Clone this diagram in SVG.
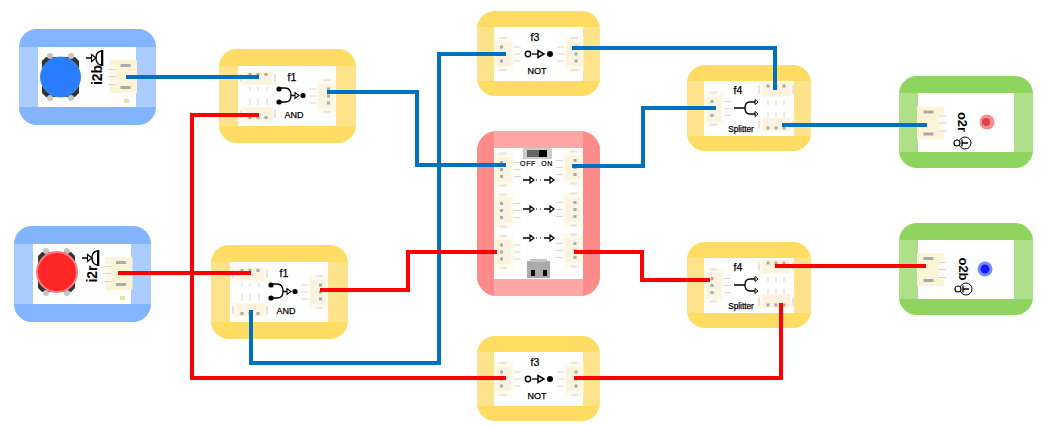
<svg xmlns="http://www.w3.org/2000/svg" xmlns:xlink="http://www.w3.org/1999/xlink" width="1053" height="426" viewBox="0 0 1053 426">
<style>
text{font-family:"Liberation Sans",Arial,sans-serif;fill:#000;text-anchor:middle}
.t{font-size:10.5px;stroke:#000;stroke-width:.25px}
.s{font-size:9px;stroke:#000;stroke-width:.25px}
.sp{font-size:8.2px;stroke:#000;stroke-width:.25px}
.v{font-size:14px;font-weight:700}
.y1{fill:#ffdc64}.y2{fill:#ffe38c}
.b1{fill:#82b4ff}.b2{fill:#aaccff}
.g1{fill:#90d460}.g2{fill:#aee08a}
.r1{fill:#ffa6a6}.r2{fill:#ff8a8a}
.w{fill:#fff}
.ln{fill:none;stroke:#000;stroke-width:1.3}
.wb,.wr{fill:none;stroke-width:4;stroke-linejoin:miter}
.wb{stroke:#0070c0}.wr{stroke:#f00}
.pin{stroke:#d4d4d4;stroke-width:1}
</style>
<defs>
<g id="portB">
<rect x="-9.5" y="-17.5" width="19" height="35" fill="#fffaec"/>
<rect x="-7" y="-12" width="15" height="24" fill="#fbf3df"/>
<rect x="-4" y="-17" width="7" height="2" fill="#e4e4e4"/><rect x="-4" y="15" width="7" height="2" fill="#e4e4e4"/>
<rect x="-3.5" y="-8.500" width="3" height="3" fill="#aaa"/><rect x="-3.5" y="-1.500" width="3" height="3" fill="#aaa"/><rect x="-3.5" y="5.500" width="3" height="3" fill="#aaa"/>
<path class="pin" d="M10 -7h7M10 0h7M10 7h7"/>
</g>
<g id="portA">
<rect x="-13.500" y="-16.500" width="27" height="33" fill="#fdf3d6"/>
<rect x="-13.500" y="-10" width="6" height="20" fill="#fff9ea"/>
<rect x="-3" y="-12.500" width="10" height="3" fill="#aaa"/><rect x="-3" y="9.500" width="10" height="3" fill="#aaa"/>
<path class="pin" d="M-15.500 -7h8M-15.500 0h8M-15.500 8h8"/>
</g>
<g id="portH">
<rect x="-18" y="-7.500" width="36" height="15" fill="#fffaec"/>
<rect x="-13" y="-6.500" width="27" height="13" fill="#fbf3df"/>
<rect x="-18" y="-4" width="2" height="8" fill="#e4e4e4"/><rect x="16" y="-4" width="2" height="8" fill="#e4e4e4"/>
<rect x="-9.500" y="-5" width="3" height="3" fill="#aaa"/><rect x="-1.500" y="-5" width="3" height="3" fill="#aaa"/><rect x="6.500" y="-5" width="3" height="3" fill="#aaa"/>
</g>
<g id="speaker">
<path class="ln" d="M86 58H92M101 51Q96 52 96 58Q96 64 101 65"/>
<path d="M91.500 54.500V61.500L96 58Z" fill="#fff" stroke="#000" stroke-width="1.200"/>
<rect x="101" y="50" width="2.300" height="16"/>
</g>
<g id="lamp">
<circle r="6" fill="#fff" stroke="#000" stroke-width="1"/>
<path class="ln" d="M-3 -3.500V3.500M-3 0H3"/>
<circle cx="-8" cy="0" r="3" fill="#fff" stroke="#000" stroke-width="1.200"/>
</g>
<g id="btnBase">
<path d="M46 57H75L79 61V93L75 97H46L42 93V61Z" fill="#333"/>
<circle cx="50" cy="56" r="3" fill="#c4c4c4"/><circle cx="71" cy="56" r="3" fill="#c4c4c4"/>
<circle cx="50" cy="98" r="3" fill="#c4c4c4"/><circle cx="71" cy="98" r="3" fill="#c4c4c4"/>
</g>
<g id="shellI"><rect x="19" y="29" width="137" height="96" rx="18" class="b1"/><rect x="19" y="47" width="137" height="60" class="b2"/><rect x="38" y="47" width="98" height="60" class="w"/></g>
<g id="shellO"><rect x="899" y="76" width="134" height="92" rx="18" class="g1"/><rect x="899" y="93" width="134" height="59" class="g2"/><rect x="918" y="93" width="96" height="59" class="w"/></g>
<g id="shellF1">
<rect x="219" y="49" width="137" height="94" rx="18" class="y1"/><rect x="219" y="66" width="137" height="60" class="y2"/><rect x="238" y="66" width="98" height="60" class="w"/>
<use href="#portH" x="258" y="78"/>
<use href="#portH" transform="translate(258,114) scale(1,-1)"/>
<path class="pin" d="M250 87v4M258 87v4M267 87v4M250 98v7M258 98v7M267 98v7"/>
<use href="#portB" transform="translate(326.500,96) scale(-1,1)"/>
<circle cx="279" cy="89" r="2.600"/><circle cx="279" cy="102" r="2.600"/>
<path class="ln" d="M281 88H285C290 88 291 92 291 95.500C291 99 290 102 285 102H281M291 95.500H296"/>
<path d="M295 92.500V98.500L299 95.500Z" fill="#fff" stroke="#000" stroke-width="1.100"/>
<circle cx="303" cy="95.500" r="2.600"/>
</g>
<g id="shellF3">
<rect x="477" y="11" width="123" height="85" rx="18" class="y1"/><rect x="477" y="27" width="123" height="54" class="y2"/><rect x="494" y="27" width="89" height="54" class="w"/>
<use href="#portB" x="503.500" y="54"/>
<use href="#portB" transform="translate(574,54) scale(-1,1)"/>
<circle cx="528" cy="54" r="2.700" fill="#fff" stroke="#000" stroke-width="1.400"/>
<path class="ln" d="M532 54H538"/>
<path d="M538 50.500V57.500L544 54Z" fill="#fff" stroke="#000" stroke-width="1.500"/>
<circle cx="550" cy="54" r="3"/>
</g>
<g id="shellF4">
<rect x="687" y="65" width="124" height="86" rx="18" class="y1"/><rect x="687" y="81" width="124" height="55" class="y2"/><rect x="704" y="81" width="90" height="55" class="w"/>
<use href="#portB" x="714" y="108.500"/>
<use href="#portH" x="776" y="89.500"/>
<use href="#portH" transform="translate(776,124.500) scale(1,-1)"/>
<path class="pin" d="M768 100v5M776 100v5M784 100v5M768 112v5M776 112v5M784 112v5"/>
<path class="ln" d="M734 108H745M755 102H750C746 102 745 105 745 108C745 111 746 114 750 114H755"/>
<path d="M755 99.500V104.500L758 102ZM755 111.500V116.500L758 114Z" fill="#fff" stroke="#000" stroke-width="1"/>
</g>
<g id="thru">
<path class="ln" d="M523 0H530M544 0H550"/>
<path d="M530 -3V3L534 0ZM550 -3V3L554 0Z" fill="#fff" stroke="#000" stroke-width="1.200"/>
<path d="M536 0h1M540 0h1" stroke="#000" stroke-width="1.200"/>
</g>
</defs>

<g id="i2b">
<use href="#shellI"/>
<use href="#btnBase"/>
<circle cx="60.500" cy="77" r="20" fill="#2a7dff" stroke="#3d8cff"/>
<use href="#speaker"/>
<text class="v" transform="translate(101.500,75) rotate(-90)">i2b</text>
<use href="#portA" x="123.500" y="76.500"/>
<rect x="124" y="99" width="5" height="4" fill="#dde8a0"/>
</g>

<g id="i2r">
<use href="#shellI" transform="translate(-5,197)"/>
<use href="#btnBase" transform="translate(-4,195)"/>
<circle cx="57" cy="272" r="20" fill="#ff2626" stroke="#ff7a7a" stroke-width="2"/>
<use href="#speaker" transform="translate(-4,200)"/>
<text class="v" transform="translate(97,274) rotate(-90)">i2r</text>
<use href="#portA" x="119" y="273.500"/>
<rect x="120" y="296" width="5" height="4" fill="#dde8a0"/>
</g>

<g id="f1a">
<use href="#shellF1"/>
<text class="t" x="292" y="81">f1</text>
<text class="s" x="294" y="118">AND</text>
</g>
<g id="f1b" transform="translate(-8,196)">
<use href="#shellF1"/>
<text class="t" x="292" y="81">f1</text>
<text class="s" x="294" y="118">AND</text>
</g>

<g id="f3a">
<use href="#shellF3"/>
<text class="t" x="535" y="41">f3</text>
<text class="s" x="537" y="74">NOT</text>
</g>
<g id="f3b" transform="translate(0,325)">
<use href="#shellF3"/>
<text class="t" x="535" y="41">f3</text>
<text class="s" x="537" y="74">NOT</text>
</g>

<g id="mid">
<rect x="477" y="131" width="123" height="165" rx="20" class="r1"/>
<path d="M497 131H494V296H497A20 20 0 0 1 477 276V151A20 20 0 0 1 497 131ZM580 131H583V296H580A20 20 0 0 0 600 276V151A20 20 0 0 0 580 131Z" class="r2"/>
<rect x="494" y="148" width="89" height="131" class="w"/>
<use href="#portB" x="503.500" y="169.500"/>
<use href="#portB" x="503.500" y="210.500"/>
<use href="#portB" x="503.500" y="252"/>
<use href="#portB" transform="translate(573,167.500) scale(-1,1)"/>
<use href="#portB" transform="translate(573,209.500) scale(-1,1)"/>
<use href="#portB" transform="translate(573,250.500) scale(-1,1)"/>
<rect x="523" y="148" width="29" height="11" fill="#ccc"/>
<rect x="527" y="150" width="12" height="7" fill="#666"/><rect x="539" y="150" width="8" height="7" fill="#000"/>
<text x="528" y="166" font-size="7" letter-spacing=".6" stroke="#000" stroke-width=".2">OFF</text>
<text x="547" y="166" font-size="7" letter-spacing=".6" stroke="#000" stroke-width=".2">ON</text>
<use href="#thru" y="180"/><use href="#thru" y="209"/><use href="#thru" y="238"/>
<rect x="527" y="261" width="23" height="17" fill="#aaa"/>
<rect x="530" y="259" width="17" height="3" fill="#c4c4c4"/>
<rect x="531" y="270" width="4" height="6"/><rect x="543" y="270" width="4" height="6"/>
</g>

<g id="f4a">
<use href="#shellF4"/>
<text class="t" x="738" y="94">f4</text>
<text class="sp" x="741" y="132">Splitter</text>
</g>
<g id="f4b" transform="translate(0,177)">
<use href="#shellF4"/>
<text class="t" x="738" y="94">f4</text>
<text class="sp" x="741" y="132">Splitter</text>
</g>

<g id="o2r">
<use href="#shellO"/>
<use href="#portA" transform="translate(930.500,123) scale(-1,1)"/>
<text x="958" y="122" font-size="13" font-weight="700" transform="rotate(90 958 122)">o2r</text>
<use href="#lamp" x="965" y="143"/>
<circle cx="987" cy="122" r="7.500" fill="#ff8a8a"/><circle cx="986" cy="122" r="4" fill="#d94050"/>
</g>
<g id="o2b">
<use href="#shellO" transform="translate(0,147)"/>
<use href="#portA" transform="translate(930.500,269.500) scale(-1,1)"/>
<text x="959" y="269" font-size="13" font-weight="700" transform="rotate(90 959 269)">o2b</text>
<use href="#lamp" x="966" y="289"/>
<circle cx="985" cy="269" r="7.500" fill="#7090ff"/><circle cx="985" cy="269" r="4.500" fill="#1a1aff"/>
</g>

<g id="connectors">
<path class="wb" d="M126 77H259"/>
<path class="wb" d="M327 92H417V165H506"/>
<path class="wb" d="M572 166H643V108H716"/>
<path class="wb" d="M251 310V363H439V54H506"/>
<path class="wb" d="M572 48H775V90"/>
<path class="wb" d="M782 125H927"/>
<path class="wr" d="M118 273H251"/>
<path class="wr" d="M320 290H408V252H497"/>
<path class="wr" d="M574 252H642V280H710"/>
<path class="wr" d="M775 266H926"/>
<path class="wr" d="M781 303V378H574"/>
<path class="wr" d="M506 378H192V115H259"/>
</g>
</svg>
